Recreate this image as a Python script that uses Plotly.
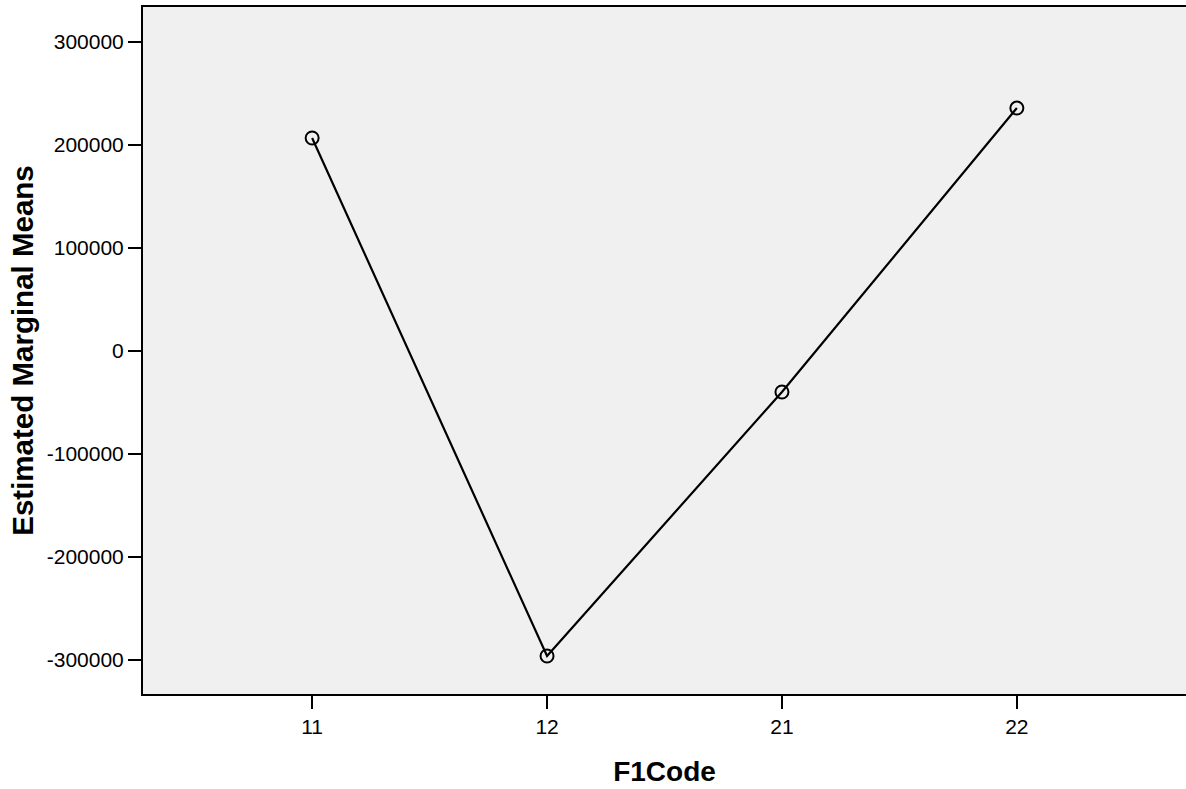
import plotly.graph_objects as go

categories = ["11", "12", "21", "22"]
means = [206800, -296100, -39800, 235900]
y_ticks = [-300000, -200000, -100000, 0, 100000, 200000, 300000]
y_tick_labels = ["-300000", "-200000", "-100000", "0", "100000", "200000", "300000"]

fig = go.Figure()
fig.add_trace(go.Scatter(
    x=categories, y=means, mode="lines+markers",
    line=dict(color="black", width=2.2),
    marker=dict(symbol="circle-open", size=13, color="black", line=dict(width=2, color="black")),
    showlegend=False, cliponaxis=False, hoverinfo="skip",
))

fig.update_layout(
    width=1186, height=789,
    margin=dict(l=143, r=0, t=7, b=95),
    paper_bgcolor="white", plot_bgcolor="#F0F0F0",
    font=dict(family="Liberation Sans, Arial, sans-serif", color="black", size=21),
)
fig.update_xaxes(
    type="category", range=[-0.72, 3.72],
    showline=True, linecolor="black", linewidth=2, mirror=True,
    ticks="outside", ticklen=13, tickwidth=2, tickcolor="black",
    showgrid=False, zeroline=False,
    tickfont=dict(size=21),
    title=dict(text="<b>F1Code</b>", font=dict(size=28), standoff=24),
)
fig.update_yaxes(
    range=[-333000, 334000],
    tickvals=y_ticks, ticktext=y_tick_labels,
    showline=True, linecolor="black", linewidth=2,
    ticks="outside", ticklen=13, tickwidth=2, tickcolor="black",
    showgrid=False, zeroline=False,
    tickfont=dict(size=21),
    title=dict(text="<b>Estimated Marginal Means</b>", font=dict(size=29.5), standoff=4),
)

fig.write_html(
    "out.html",
    config={"displayModeBar": False},
    post_script="document.body.style.margin='0';document.body.style.overflow='hidden';",
)
